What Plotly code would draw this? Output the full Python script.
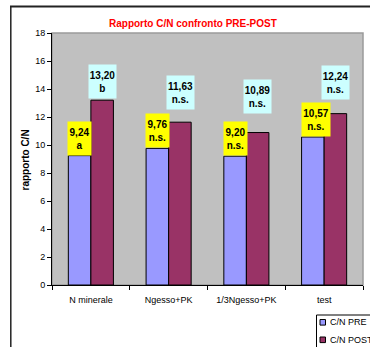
import plotly.graph_objects as go

# Data
categories = ["N minerale", "Ngesso+PK", "1/3Ngesso+PK", "test"]
cn_pre = [9.24, 9.76, 9.20, 10.57]
cn_post = [13.20, 11.63, 10.89, 12.24]
sig_pre = ["a", "n.s.", "n.s.", "n.s."]
sig_post = ["b", "n.s.", "n.s.", "n.s."]
series_names = ["C/N PRE", "C/N POST"]
y_ticks = list(range(0, 19, 2))

# Styling
W, H = 370, 347
L, R, T, B = 52, 7, 33, 62
FONT = "Arial, Liberation Sans, sans-serif"
PRE_COLOR = "#9999FF"
POST_COLOR = "#993366"
PRE_BOX = "#FFFF00"
POST_BOX = "#CCFFFF"
PLOT_BG = "#C0C0C0"

# vertical lift (px) of the POST value boxes above their bars
post_lift = [1, 12, 19, 14]
pre_shift = [0, 0, 0, 3]
post_shift = [0, 1, 0, 0]
BAR_HALF = 11.3  # px distance from category centre to each bar centre

plot_w = W - L - R
plot_h = H - T - B


def px_x(x):
    return (x - L) / plot_w


def px_y(y):
    return (H - B - y) / plot_h


def fmt(v):
    return f"{v:.2f}".replace(".", ",")


fig = go.Figure()
fig.add_trace(go.Bar(x=categories, y=cn_pre, name=series_names[0],
                     marker=dict(color=PRE_COLOR, line=dict(color="#000", width=1))))
fig.add_trace(go.Bar(x=categories, y=cn_post, name=series_names[1],
                     marker=dict(color=POST_COLOR, line=dict(color="#000", width=1))))

annotations = []
for i, c in enumerate(categories):
    t_pre = fmt(cn_pre[i])
    t_post = fmt(cn_post[i])
    annotations.append(dict(
        x=c, y=cn_pre[i], xref="x", yref="y", xanchor="center", yanchor="bottom",
        xshift=-BAR_HALF + pre_shift[i], yshift=0,
        text=f"<b>{t_pre}<br>{sig_pre[i]}</b>", showarrow=False,
        bgcolor=PRE_BOX, width=23 if len(t_pre) == 4 else 28, height=33,
        font=dict(family=FONT, size=10, color="#000"), borderpad=0))
    annotations.append(dict(
        x=c, y=cn_post[i], xref="x", yref="y", xanchor="center", yanchor="bottom",
        xshift=BAR_HALF + post_shift[i], yshift=post_lift[i],
        text=f"<b>{t_post}<br>{sig_post[i]}</b>", showarrow=False,
        bgcolor=POST_BOX, width=27, height=33,
        font=dict(family=FONT, size=10, color="#000"), borderpad=0))

# title and axis title
annotations.append(dict(
    x=px_x(192.5), y=px_y(24), xref="paper", yref="paper", showarrow=False,
    xanchor="center", yanchor="middle",
    text="<b>Rapporto C/N confronto PRE-POST</b>",
    font=dict(family=FONT, size=10, color="#FF0000")))
annotations.append(dict(
    x=px_x(24.5), y=px_y(160), xref="paper", yref="paper", showarrow=False,
    xanchor="center", yanchor="middle", textangle=-90,
    text="<b>rapporto C/N</b>",
    font=dict(family=FONT, size=10, color="#000")))

# legend entries
legend_rows = [(series_names[0], PRE_COLOR, 322.3), (series_names[1], POST_COLOR, 339.8)]
shapes = [
    # plot-area border
    dict(type="rect", xref="paper", yref="paper", x0=0, x1=1, y0=0, y1=1,
         line=dict(color="#9A9A9A", width=1.5), layer="below"),
    # outer chart frame
    dict(type="line", xref="paper", yref="paper",
         x0=px_x(10), x1=px_x(375), y0=px_y(6.5), y1=px_y(6.5),
         line=dict(color="#222", width=2)),
    dict(type="line", xref="paper", yref="paper",
         x0=px_x(10.8), x1=px_x(10.8), y0=px_y(6), y1=px_y(350),
         line=dict(color="#222", width=1.5)),
    # legend box
    dict(type="rect", xref="paper", yref="paper",
         x0=px_x(316.5), x1=px_x(380), y0=px_y(315), y1=px_y(355),
         line=dict(color="#000", width=1), fillcolor="#FFFFFF"),
]
for name, col, yc in legend_rows:
    shapes.append(dict(type="rect", xref="paper", yref="paper",
                       x0=px_x(320), x1=px_x(325.5), y0=px_y(yc + 2.8), y1=px_y(yc - 2.8),
                       line=dict(color="#000", width=1), fillcolor=col))
    annotations.append(dict(x=px_x(327.5), y=px_y(yc), xref="paper", yref="paper",
                            showarrow=False, xanchor="left", yanchor="middle",
                            text=name, font=dict(family=FONT, size=9, color="#000")))

fig.update_layout(
    width=W, height=H,
    margin=dict(l=L, r=R, t=T, b=B),
    paper_bgcolor="#FFFFFF", plot_bgcolor=PLOT_BG,
    barmode="group", bargap=0.42, bargroupgap=0,
    showlegend=False,
    font=dict(family=FONT, size=9, color="#000"),
    annotations=annotations, shapes=shapes,
    xaxis=dict(type="category", showgrid=False, showline=True, linecolor="#000", linewidth=1,
               ticks="outside", tickson="boundaries", ticklen=4, tickcolor="#000",
               ticklabelstandoff=6,
               tickfont=dict(family=FONT, size=9, color="#000"), automargin=False,
               zeroline=False),
    yaxis=dict(range=[0, 18], tickvals=y_ticks, showgrid=False, showline=True,
               linecolor="#000", linewidth=1, ticks="outside", ticklen=4, tickcolor="#000",
               tickfont=dict(family=FONT, size=9, color="#000"), automargin=False,
               zeroline=False),
)

fig.write_html("out.html")
